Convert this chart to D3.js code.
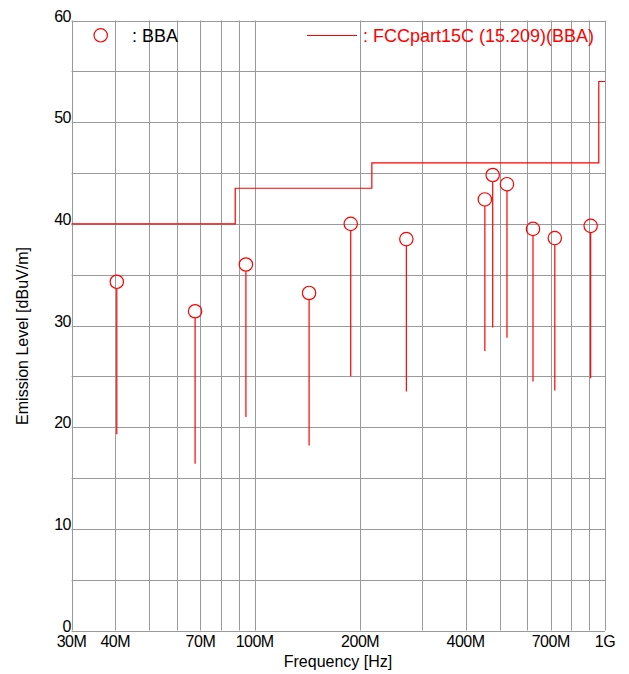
<!DOCTYPE html>
<html><head><meta charset="utf-8">
<script src="https://cdn.jsdelivr.net/npm/d3@7"></script>
<style>body{margin:0;background:#fff}svg{display:block;font-family:"Liberation Sans",Arial,sans-serif}</style>
</head><body><svg id="c" width="629" height="674"></svg>
<script>
// Data (frequency in MHz, level in dBuV/m)
const freqs   = [40.4, 67.6, 94.4, 143, 188, 271, 454, 478, 525, 623, 719, 910];
const peaks   = [34.3, 31.4, 36.0, 33.2, 40.0, 38.5, 42.4, 44.8, 43.9, 39.5, 38.6, 39.8];
const floors  = [19.3, 16.4, 21.0, 18.2, 25.0, 23.5, 27.5, 29.8, 28.8, 24.5, 23.6, 24.8];
const limitF  = [30, 88, 88, 216, 216, 960, 960, 1000];
const limitL  = [40, 40, 43.5, 43.5, 46, 46, 54, 54];
const xGrid   = [30,40,50,60,70,80,90,100,200,300,400,500,600,700,800,900,1000];
const xTicks  = [30,40,70,100,200,400,700,1000];
const xLabels = ["30M","40M","70M","100M","200M","400M","700M","1G"];
const yGrid   = d3.range(0, 61, 5);
const yTicks  = [0,10,20,30,40,50,60];

const L=71.5, R=605, T=20.5, B=630.5;
const svg=d3.select("#c");
const x=d3.scaleLog().domain([30,1000]).range([L,R]);
const y=d3.scaleLinear().domain([0,60]).range([B,T]);
const gc="#9a9a9a";

const g=svg.append("g");
g.selectAll(".vg").data(xGrid).enter().append("line")
  .attr("x1",d=>Math.round(x(d))+0.5).attr("x2",d=>Math.round(x(d))+0.5)
  .attr("y1",T).attr("y2",B).attr("stroke",gc).attr("stroke-width",1);
g.selectAll(".hg").data(yGrid).enter().append("line")
  .attr("y1",d=>Math.round(y(d))+0.5).attr("y2",d=>Math.round(y(d))+0.5)
  .attr("x1",L).attr("x2",R).attr("stroke",gc).attr("stroke-width",1);

// y tick labels
svg.selectAll(".yl").data(yTicks).enter().append("text")
  .attr("x",71).attr("y",d=>y(d)+1).attr("text-anchor","end")
  .attr("font-size",16).attr("letter-spacing",-0.5).attr("fill","#000").text(d=>d);
// x tick labels
svg.selectAll(".xl").data(xTicks).enter().append("text")
  .attr("x",d=>x(d)).attr("y",647).attr("text-anchor","middle")
  .attr("font-size",16).attr("letter-spacing",-0.5).attr("fill","#000").text((d,i)=>xLabels[i]);

svg.append("text").attr("x",338).attr("y",667).attr("text-anchor","middle")
  .attr("font-size",16).text("Frequency [Hz]");
svg.append("text").attr("transform","translate(28,336) rotate(-90)").attr("text-anchor","middle")
  .attr("font-size",16).text("Emission Level [dBuV/m]");

// limit line
const lim=limitF.map((f,i)=>[f,limitL[i]]);
svg.append("path").datum(lim)
  .attr("d",d3.line().x(d=>x(d[0])).y(d=>y(d[1])))
  .attr("fill","none").attr("stroke","#ff0000").attr("stroke-width",1.2);

// stems
const pts=freqs.map((f,i)=>({f,p:peaks[i],b:floors[i]}));
svg.selectAll(".st").data(pts).enter().append("line")
  .attr("x1",d=>x(d.f)).attr("x2",d=>x(d.f))
  .attr("y1",d=>y(d.p)+6.7).attr("y2",d=>y(d.b))
  .attr("stroke","#ff0000").attr("stroke-width",1.2);
svg.selectAll(".pt").data(pts).enter().append("circle")
  .attr("cx",d=>x(d.f)).attr("cy",d=>y(d.p)).attr("r",6.7)
  .attr("fill","none").attr("stroke","#ff0000").attr("stroke-width",1.2);

// legend
svg.append("circle").attr("cx",100.7).attr("cy",35.3).attr("r",6.7)
  .attr("fill","#fff").attr("stroke","#ff0000").attr("stroke-width",1.2);
svg.append("text").attr("x",132).attr("y",42).attr("font-size",18).attr("fill","#000").text(": BBA");
svg.append("line").attr("x1",307).attr("x2",357).attr("y1",35.5).attr("y2",35.5)
  .attr("stroke","#ff0000").attr("stroke-width",1.2);
svg.append("text").attr("x",363).attr("y",42).attr("font-size",18).attr("fill","#ff0000")
  .text(": FCCpart15C (15.209)(BBA)");
</script></body></html>
